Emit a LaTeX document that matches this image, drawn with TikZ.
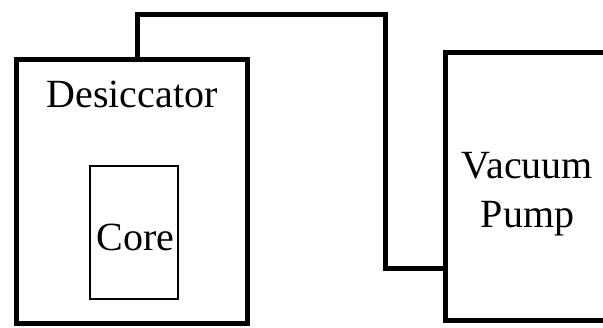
\documentclass[tikz,border=0pt]{standalone}
\usepackage{fontspec}
\setmainfont{Liberation Serif}
\begin{document}
\begin{tikzpicture}[x=1pt,y=-1pt,
  bigbox/.style={draw=black,line width=5pt,rectangle,inner sep=0pt,outer sep=0pt},
  smallbox/.style={draw=black,line width=1.3pt,rectangle,inner sep=0pt,outer sep=0pt},
  lbl/.style={font=\fontsize{40}{49}\selectfont,inner sep=0pt,align=center},
  pipe/.style={draw=black,line width=5pt,line join=miter}]
\useasboundingbox (0,0) rectangle (603,327);
\clip (0,0) rectangle (603,327);
\node[bigbox,minimum width=230.5pt,minimum height=264pt] (des) at (131.75,191) {};
\node[smallbox,minimum width=88pt,minimum height=133pt] (core) at (134,232.5) {};
\node[bigbox,minimum width=230pt,minimum height=268pt] (pump) at (560.5,186) {};
\node[lbl] (destxt) at (132,94) {Desiccator};
\node[lbl] (coretxt) at (135.5,237) {Core};
\node[lbl] (pumptxt) at (527.5,194) {Vacuum\\Pump};
\coordinate (p1) at (137.5,59);
\coordinate (p4) at (445.5,268);
\draw[pipe] (des.north -| p1) |- (385.5,14) |- (pump.west |- p4);
\end{tikzpicture}
\end{document}
